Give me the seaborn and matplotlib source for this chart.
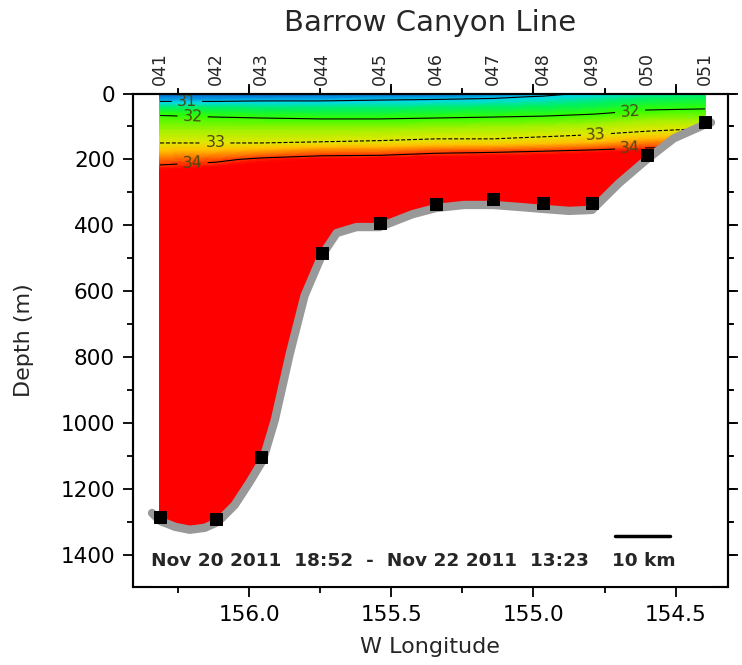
import numpy as np
import pandas as pd
import matplotlib
matplotlib.use("Agg")
import matplotlib.pyplot as plt
import matplotlib.transforms as mtransforms
from matplotlib.lines import Line2D
import seaborn as sns
from matplotlib.colors import LinearSegmentedColormap

# stations along the Barrow Canyon line
stations = ['041', '042', '043', '044', '045', '046', '047', '048', '049', '050', '051']
station_lon = [156.315, 156.118, 155.960, 155.746, 155.542, 155.342, 155.142, 154.966, 154.794, 154.600, 154.396]
station_depth = [1283, 1290, 1103, 485, 392, 334, 321, 331, 333, 185, 85]

# bottom curve (gray line)
bottom_lon = [156.343, 156.315, 156.262, 156.210, 156.157, 156.111, 156.052, 155.999, 155.953, 155.911,
              155.858, 155.806, 155.746, 155.693, 155.623, 155.542, 155.426, 155.342, 155.244, 155.142,
              155.051, 154.966, 154.875, 154.794, 154.699, 154.600, 154.506, 154.396, 154.375]
bottom_depth = [1272, 1296, 1314, 1323, 1317, 1299, 1248, 1178, 1112, 991,
                789, 613, 492, 423, 405, 405, 366, 347, 338, 338,
                344, 350, 356, 353, 272, 199, 136, 94, 88]

# salinity at each station (columns) for these depths (rows)
depth_levels = [0, 10, 20, 40, 60, 80, 100, 125, 150, 175, 200, 225, 250, 1500]
salinity = {
    '041': [30.4, 30.7, 30.9, 31.4, 31.9, 32.2, 32.4, 32.7, 33.0, 33.4, 33.8, 34.1, 34.4, 34.9],
    '042': [30.4, 30.7, 30.9, 31.4, 31.8, 32.15, 32.4, 32.7, 33.0, 33.45, 33.9, 34.2, 34.4, 34.9],
    '043': [30.4, 30.7, 30.95, 31.35, 31.75, 32.1, 32.4, 32.7, 33.0, 33.55, 34.1, 34.3, 34.5, 34.9],
    '044': [30.5, 30.75, 30.95, 31.35, 31.7, 32.05, 32.4, 32.7, 33.05, 33.75, 34.2, 34.4, 34.5, 34.9],
    '045': [30.5, 30.8, 31.0, 31.35, 31.7, 32.05, 32.4, 32.75, 33.1, 33.75, 34.25, 34.4, 34.5, 34.9],
    '046': [30.6, 30.8, 31.05, 31.4, 31.75, 32.1, 32.45, 32.8, 33.2, 33.9, 34.3, 34.4, 34.5, 34.9],
    '047': [30.7, 30.9, 31.1, 31.45, 31.8, 32.15, 32.5, 32.8, 33.2, 33.95, 34.3, 34.4, 34.5, 34.9],
    '048': [30.8, 31.05, 31.2, 31.5, 31.85, 32.2, 32.55, 32.9, 33.3, 34.0, 34.35, 34.45, 34.5, 34.9],
    '049': [31.1, 31.2, 31.35, 31.6, 31.95, 32.3, 32.65, 33.0, 33.45, 34.1, 34.4, 34.5, 34.5, 34.9],
    '050': [31.3, 31.4, 31.55, 31.85, 32.15, 32.5, 32.8, 33.15, 33.7, 34.2, 34.4, 34.5, 34.5, 34.9],
    '051': [31.4, 31.5, 31.65, 31.9, 32.2, 32.55, 32.9, 33.3, 33.8, 34.2, 34.4, 34.5, 34.5, 34.9],
}
contour_levels = [31, 32, 33, 34]
lon_ticks = [156.0, 155.5, 155.0, 154.5]
lon_minor = [156.25, 155.75, 155.25, 154.75]
depth_ticks = [0, 200, 400, 600, 800, 1000, 1200, 1400]
depth_minor = [100, 300, 500, 700, 900, 1100, 1300]
date_text = 'Nov 20 2011  18:52  -  Nov 22 2011  13:23'

sns.set_style('ticks')
plt.rcParams['font.family'] = ['DejaVu Sans']

sal = pd.DataFrame(salinity, index=depth_levels)
X, Y = np.meshgrid(station_lon, depth_levels)
Z = sal[stations].values

# rainbow palette, saturating to red just above 34
smin, smax = 30.3, 34.2
nodes = [(30.3, '#1040b0'), (30.8, '#0090e0'), (31.1, '#00d8e8'), (31.5, '#00f060'),
         (32.0, '#30ff00'), (32.6, '#a8f000'), (33.0, '#e0e800'), (33.4, '#ffc000'),
         (33.8, '#ff7000'), (34.1, '#ff2000'), (34.2, '#ff0000')]
cmap = LinearSegmentedColormap.from_list('sal', [((v - smin) / (smax - smin), c) for v, c in nodes])
cmap.set_over('#ff0000')
cmap.set_under('#1040b0')

fig = plt.figure(figsize=(7.42, 6.65), dpi=100)
ax = fig.add_axes([133 / 742, 78.5 / 665, 594.5 / 742, 493 / 665])
ax.set_xlim(156.41, 154.317)
ax.set_ylim(1495, 0)

ax.contourf(X, Y, Z, levels=np.arange(smin, smax + 0.001, 0.05), cmap=cmap, extend='both', zorder=1)
cs = ax.contour(X, Y, Z, levels=contour_levels, colors='k', linewidths=0.8,
                linestyles=['solid', 'solid', 'dashed', 'solid'], zorder=2)
ax.clabel(cs, fmt='%d', fontsize=11.5, colors='#4a4a10', inline=True,
          manual=[(156.22, 22), (156.2, 62), (156.12, 150), (156.2, 215),
                  (154.66, 52), (154.78, 125), (154.66, 162)])

# mask under the bottom and draw the bottom line
ax.fill_between(bottom_lon, bottom_depth, 1600, color='white', zorder=3)
sns.lineplot(x=bottom_lon, y=bottom_depth, sort=False, estimator=None, color='#999999',
             linewidth=6, ax=ax, zorder=4)
sns.scatterplot(x=station_lon, y=station_depth, marker='s', color='black', s=75,
                edgecolor='black', ax=ax, zorder=5)
ax.set_xlim(156.41, 154.317)
ax.set_ylim(1495, 0)

ax.set_xticks(lon_ticks)
ax.set_xticklabels([f'{v:.1f}' for v in lon_ticks])
ax.set_xticks(lon_minor, minor=True)
ax.set_yticks(depth_ticks)
ax.set_yticks(depth_minor, minor=True)
ax.set_xlabel('W Longitude', fontsize=16, labelpad=9)
ax.set_ylabel('Depth (m)', fontsize=16, labelpad=19)

# station names above the top axis
trans = mtransforms.blended_transform_factory(ax.transData, ax.transAxes)
for name, lon in zip(stations, station_lon):
    ax.text(lon, 1.017, name, transform=trans, rotation=90, fontsize=12.5,
            ha='center', va='bottom')

fig.text(0.58, 0.966, 'Barrow Canyon Line', fontsize=21, ha='center', va='center')

ax.text(0.03, 0.052, date_text, transform=ax.transAxes, fontsize=13.3, fontweight='semibold',
        ha='left', va='center')
ax.text(0.86, 0.052, '10 km', transform=ax.transAxes, fontsize=13.3, fontweight='semibold',
        ha='center', va='center')
ax.add_artist(Line2D([0.811, 0.903], [0.103, 0.103], transform=ax.transAxes,
                     color='black', linewidth=2.5, zorder=6))

# axis ticks
ax.xaxis.set_ticks_position('both')
ax.yaxis.set_ticks_position('both')
ax.tick_params(which='both', direction='out', width=1.3, labeltop=False, labelright=False,
               colors='black')
ax.tick_params(which='major', length=7, labelsize=15.5, pad=6)
ax.tick_params(which='minor', length=4)
for side in ['top', 'right', 'bottom', 'left']:
    ax.spines[side].set_visible(True)
    ax.spines[side].set_linewidth(1.5)
    ax.spines[side].set_color('black')

# frame and top/right ticks drawn as figure-level lines, tied to the axes transforms
fig.add_artist(Line2D([0, 1, 1, 0, 0], [0, 0, 1, 1, 0], transform=ax.transAxes,
                      color='black', linewidth=1.5, clip_on=False, zorder=20))
top_trans = mtransforms.blended_transform_factory(ax.transData, ax.transAxes)
right_trans = mtransforms.blended_transform_factory(ax.transAxes, ax.transData)
for lon in lon_ticks:
    fig.add_artist(Line2D([lon, lon], [1, 1.014], transform=top_trans, color='black',
                          linewidth=1.3, clip_on=False, zorder=20))
for lon in lon_minor:
    fig.add_artist(Line2D([lon, lon], [1, 1.008], transform=top_trans, color='black',
                          linewidth=1.3, clip_on=False, zorder=20))
for d in depth_ticks:
    fig.add_artist(Line2D([1, 1.012], [d, d], transform=right_trans, color='black',
                          linewidth=1.3, clip_on=False, zorder=20))
for d in depth_minor:
    fig.add_artist(Line2D([1, 1.007], [d, d], transform=right_trans, color='black',
                          linewidth=1.3, clip_on=False, zorder=20))

fig.savefig('out.png', dpi=100)
